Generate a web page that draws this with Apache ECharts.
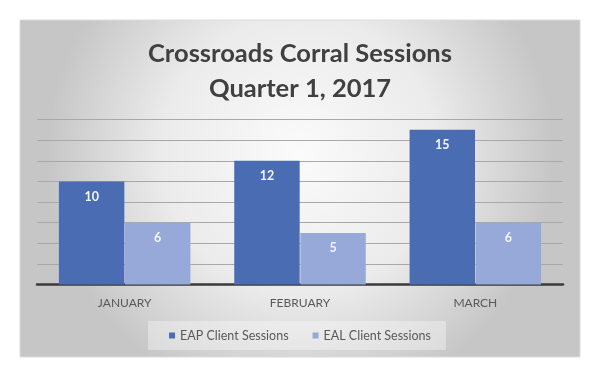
<!DOCTYPE html>
<html>
<head>
<meta charset="utf-8">
<script src="https://cdn.jsdelivr.net/npm/echarts@6/dist/echarts.min.js"></script>
<style>
html,body{margin:0;padding:0;background:#fff;}
#chart{width:600px;height:375px;}
</style>
</head>
<body>
<div id="chart"></div>
<script>
const categories = ['JANUARY', 'FEBRUARY', 'MARCH'];
const eapSessions = [10, 12, 15];
const ealSessions = [6, 5, 6];
const seriesNames = ['EAP Client Sessions', 'EAL Client Sessions'];
const titleText = 'Crossroads Corral Sessions\nQuarter 1, 2017';

const chart = echarts.init(document.getElementById('chart'));
const FONT = 'Lato';
const labelStyle = {
  show: true, position: 'insideTop', distance: 9,
  color: '#f4f6fb', fontFamily: FONT, fontWeight: 'bold', fontSize: 12.5
};
chart.setOption({
  animation: false,
  graphic: [{
    type: 'rect', z: -10, silent: true,
    shape: {x: 20, y: 20, width: 560, height: 337},
    style: {
      fill: new echarts.graphic.RadialGradient(0.5, 0.4, 0.75, [
        {offset: 0, color: '#fbfbfb'},
        {offset: 0.55, color: '#ebebeb'},
        {offset: 1, color: '#c6c6c6'}
      ]),
      stroke: '#dcdcdc', lineWidth: 1
    }
  }],
  title: {
    text: titleText,
    left: 'center', top: 31,
    textStyle: {
      fontFamily: FONT, fontWeight: 'bold', fontSize: 25.5,
      lineHeight: 35, color: '#404040'
    }
  },
  legend: {
    data: seriesNames,
    left: 'center', top: 321,
    icon: 'rect', itemWidth: 6, itemHeight: 6, itemGap: 24,
    backgroundColor: 'rgba(255,255,255,0.35)',
    padding: [8, 15, 8, 21],
    textStyle: {fontFamily: FONT, fontSize: 12.5, color: '#595959'}
  },
  grid: {left: 37, right: 37, top: 119.5, bottom: 90.5},
  xAxis: {
    type: 'category', data: categories,
    axisLine: {lineStyle: {color: '#3a3a3a', width: 2.5}},
    axisTick: {show: false},
    axisLabel: {margin: 13, fontFamily: FONT, fontSize: 12, color: '#595959'}
  },
  yAxis: {
    type: 'value', min: 0, max: 16, interval: 2,
    axisLabel: {show: false},
    axisLine: {show: false}, axisTick: {show: false},
    splitLine: {lineStyle: {color: '#a8a8a8', width: 1}}
  },
  series: [
    {
      name: seriesNames[0], type: 'bar', data: eapSessions,
      barGap: '1%', barCategoryGap: '25%',
      itemStyle: {color: '#4a6cb3'},
      label: labelStyle
    },
    {
      name: seriesNames[1], type: 'bar', data: ealSessions,
      itemStyle: {color: '#96a9d9'},
      label: labelStyle
    }
  ]
});
</script>
</body>
</html>
